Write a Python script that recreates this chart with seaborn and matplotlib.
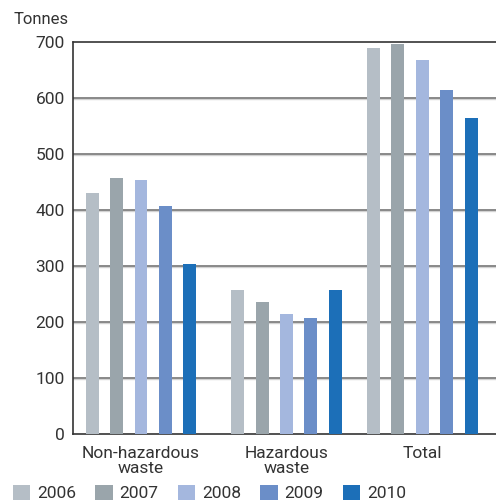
import matplotlib
matplotlib.use("Agg")
import matplotlib.pyplot as plt
import seaborn as sns
import pandas as pd

# Waste quantities (tonnes) per category and year
categories = ["Non-hazardous\nwaste", "Hazardous\nwaste", "Total"]
years = ["2006", "2007", "2008", "2009", "2010"]
non_hazardous = [430, 457, 453, 407, 304]
hazardous = [257, 235, 215, 207, 257]
total = [688, 696, 667, 614, 563]
y_ticks = [0, 100, 200, 300, 400, 500, 600, 700]

palette = ["#b5bec6", "#9aa5ab", "#a4b7de", "#6b8ec8", "#1c6fb8"]

rows = []
for cat, vals in zip(categories, [non_hazardous, hazardous, total]):
    for yr, v in zip(years, vals):
        rows.append({"category": cat, "year": yr, "tonnes": v})
df = pd.DataFrame(rows)

sns.set_theme(style="white")
plt.rcParams["font.family"] = ["Roboto", "DejaVu Sans"]
text_color = "#333333"
fs = 12.5

fig = plt.figure(figsize=(4.96, 5.01), dpi=100)
ax = fig.add_axes([73 / 496, (501 - 434.3) / 501, 1 - 73 / 496, (434.3 - 41.5) / 501])

sns.barplot(data=df, x="category", y="tonnes", hue="year", order=categories,
            hue_order=years, palette=palette, width=0.87, gap=0.47,
            saturation=1, linewidth=0, ax=ax, legend=True, zorder=3)

# nudge the middle group slightly to the right
shift = 0.0345
for p in ax.patches:
    cx = p.get_x() + p.get_width() / 2
    if 0.5 < cx < 1.5:
        p.set_x(p.get_x() + shift)

ax.set_xlim(-0.4835, 2.524)
ax.set_ylim(0, 700)
ax.set_yticks(y_ticks)
ax.set_xticks([0, 1 + shift, 2])
ax.set_xticklabels(categories, linespacing=0.95)
ax.set_xlabel("")
ax.set_ylabel("")

# horizontal grid lines with a soft shadow underneath
px = 700 / 392.8
for t in y_ticks[1:-1]:
    ax.axhline(t - 1.1 * px, color="#d2d2d2", lw=1.0, zorder=1)
    ax.axhline(t, color="#6a6a6a", lw=1.1, zorder=2)
ax.axhline(700, color="#444444", lw=1.3, zorder=2, clip_on=False)

for side in ["top", "right"]:
    ax.spines[side].set_visible(False)
for side in ["left", "bottom"]:
    ax.spines[side].set_color("#333333")
    ax.spines[side].set_linewidth(1.2)

ax.tick_params(axis="both", length=0, labelsize=fs, colors=text_color)
ax.tick_params(axis="y", pad=6)
ax.tick_params(axis="x", pad=8.5)

fig.text(14 / 496, 1 - 20 / 501, "Tonnes", fontsize=12, color=text_color,
         ha="left", va="center")

handles, labels = ax.get_legend_handles_labels()
ax.get_legend().remove()
fig.legend(handles, labels, ncol=5, loc="upper left",
           bbox_to_anchor=(13 / 496, 1 - 484.5 / 501), frameon=False,
           fontsize=fs, labelcolor=text_color, handlelength=1.0,
           handleheight=1.0, handletextpad=0.4, columnspacing=1.1,
           borderpad=0, borderaxespad=0)

fig.savefig("out.png", dpi=100)
